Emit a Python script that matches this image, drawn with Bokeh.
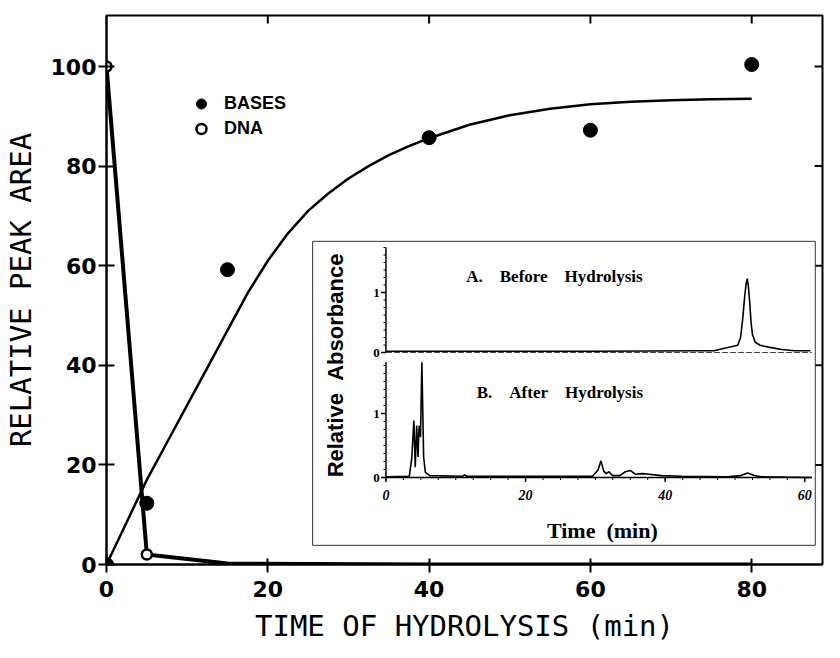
import numpy as np
from bokeh.plotting import figure
from bokeh.models import Range1d, FixedTicker, Legend, LegendItem
from bokeh.core.properties import value
from bokeh.embed import file_html
from bokeh.resources import INLINE

# ---------------- main chart data ----------------
time_min = [0, 5, 15, 40, 60, 80]
bases_area = [0, 12.3, 59.2, 85.7, 87.2, 100.4]
dna_area = [100, 2.0, 0.2, 0.0, 0.0, 0.0]

fit_time = [0, 2.5, 5, 7.5, 10, 12.5, 15, 17.5, 20, 22.5, 25, 27.5, 30, 32.5, 35,
            37.5, 40, 45, 50, 55, 60, 65, 70, 75, 80]
fit_area = [0, 8.5, 17, 24.5, 32, 39.5, 47, 54.5, 61, 66.5, 71, 74.5, 77.5, 80, 82.2,
            84, 85.6, 88.3, 90.2, 91.5, 92.4, 92.9, 93.2, 93.4, 93.5]

x_ticks = [0, 20, 40, 60, 80]
y_ticks = [0, 20, 40, 60, 80, 100]

# ---------------- inset chromatograms ----------------
chromA_time = [0, 15, 30, 45, 47, 48.5, 50.4, 50.8, 51.1, 51.4, 51.6, 51.75, 51.9,
               52.1, 52.3, 52.5, 52.9, 53.6, 54.8, 56.7, 58.5, 60.8]
chromA_abs = [0.02, 0.02, 0.02, 0.03, 0.03, 0.07, 0.12, 0.25, 0.55, 0.95, 1.15, 1.23,
              1.12, 0.85, 0.5, 0.3, 0.17, 0.12, 0.09, 0.05, 0.03, 0.03]

chromB_time = [0, 3.35, 3.7, 4.0, 4.2, 4.4, 4.6, 4.75, 4.95, 5.15, 5.4, 5.65, 6.3,
               11.0, 11.25, 11.6, 16.7, 29.6, 30.4, 30.8, 31.2, 31.55, 31.95, 32.45,
               33.5, 34.3, 35.0, 35.75, 36.75, 37.7, 39.5, 42.4, 48.9, 50.85, 51.8,
               52.8, 53.8, 61.0]
chromB_abs = [0.01, 0.02, 0.3, 0.89, 0.16, 0.81, 0.32, 0.81, 0.63, 1.8, 0.32, 0.08,
              0.03, 0.02, 0.04, 0.02, 0.02, 0.02, 0.12, 0.26, 0.1, 0.06, 0.09, 0.03,
              0.03, 0.09, 0.11, 0.05, 0.06, 0.05, 0.03, 0.02, 0.01, 0.03, 0.07,
              0.03, 0.01, 0.0]

inset_x_ticks = [0, 20, 40, 60]
inset_y_ticks = [0, 1]

NB = "\u00a0"

# ---------------- layout (pixels) ----------------
W, H = 824, 646
BL, BR, BT = 102, 2, 15
FW = W - BL - BR          # frame width
FH = 549                  # frame height
BB = H - BT - FH
PX_X, PX_Y = 8.11, 4.98   # px per unit on main axes

x_end = FW / PX_X
y_end = FH / PX_Y

p = figure(width=W, height=H, output_backend="svg", toolbar_location=None,
           x_range=Range1d(0, x_end), y_range=Range1d(0, y_end),
           min_border_left=BL, min_border_right=BR, min_border_top=BT,
           min_border_bottom=BB, background_fill_color="white",
           border_fill_color="white")
p.grid.visible = False
p.outline_line_color = "black"
p.outline_line_width = 2

# inset ranges (frame-relative mapping)
ix_px = 7.02
ix_zero = 391 - 110
ya_px, ya_zero = 60.0, 564 - 352
yb_px, yb_zero = 64.0, 564 - 477
p.extra_x_ranges = {"ix": Range1d(-ix_zero / ix_px, (FW - ix_zero) / ix_px)}
p.extra_y_ranges = {"ya": Range1d(-ya_zero / ya_px, (FH - ya_zero) / ya_px),
                    "yb": Range1d(-yb_zero / yb_px, (FH - yb_zero) / yb_px)}

xa = p.xaxis[0]
xa.ticker = FixedTicker(ticks=x_ticks)
xa.axis_label = "TIME OF HYDROLYSIS (min)"
ya_ax = p.yaxis[0]
ya_ax.ticker = FixedTicker(ticks=y_ticks)
ya_ax.axis_label = "RELATIVE PEAK AREA"
for ax in (xa, ya_ax):
    ax.axis_line_width = 2
    ax.axis_line_color = "black"
    ax.major_tick_line_width = 2
    ax.major_tick_line_color = "black"
    ax.minor_tick_line_color = None
    ax.major_label_text_font = "DejaVu Sans"
    ax.major_label_text_font_style = "bold"
    ax.major_label_text_font_size = "22px"
    ax.major_label_text_color = "black"
    ax.axis_label_text_font = "DejaVu Sans Mono"
    ax.axis_label_text_font_style = "normal"
    ax.axis_label_text_font_size = "29px"
    ax.axis_label_text_color = "black"
xa.major_tick_in, xa.major_tick_out = 6, 8
xa.major_label_standoff = 8
xa.axis_label_standoff = 9
ya_ax.major_tick_in, ya_ax.major_tick_out = 8, 8
ya_ax.major_label_standoff = 2
ya_ax.axis_label_standoff = 10

# inward ticks on the top and right frame edges
tick_len_y = 8 / PX_Y
tick_len_x = 8 / PX_X
p.segment(x0=x_ticks[1:], y0=[y_end] * 4, x1=x_ticks[1:], y1=[y_end - tick_len_y] * 4,
          line_color="black", line_width=2)
p.segment(x0=[x_end] * 5, y0=y_ticks[1:], x1=[x_end - tick_len_x] * 5, y1=y_ticks[1:],
          line_color="black", line_width=2)

# ---------------- main series ----------------
p.line(fit_time, fit_area, line_color="black", line_width=2.5)
p.line(time_min, dna_area, line_color="black", line_width=4)
r_bases = p.scatter(time_min, bases_area, size=14, fill_color="black",
                    line_color="black")
r_dna = p.scatter(time_min[:2], dna_area[:2], size=10, fill_color="white",
                  line_color="black", line_width=2.5)

legend = Legend(items=[LegendItem(label="BASES", renderers=[r_bases]),
                       LegendItem(label="DNA", renderers=[r_dna])],
                location=(82, 423), margin=0, padding=0, spacing=0,
                glyph_width=26, glyph_height=25, label_height=25,
                label_standoff=10, background_fill_alpha=0,
                border_line_alpha=0, label_text_font="Liberation Sans",
                label_text_font_style="bold", label_text_font_size="18px",
                label_text_color="black")
p.add_layout(legend)

# ---------------- inset ----------------
IX = dict(x_range_name="ix")
serif = value("Liberation Serif")
p.quad(left=[-10.5], right=[61.5], bottom=[-1.06], top=[3.69],
       fill_color="white", line_color="#333333", line_width=1,
       y_range_name="yb", **IX)

# panel A axes
p.segment(x0=[0], y0=[0], x1=[0], y1=[1.75], line_color="black", line_width=1.5,
          y_range_name="ya", **IX)
p.line([0, 61], [0, 0], line_color="#444444", line_width=1, line_dash="6 2",
       y_range_name="ya", **IX)
mA = np.arange(0, 1.751, 0.125)
p.segment(x0=np.zeros(len(mA)), y0=mA, x1=np.full(len(mA), -0.35), y1=mA,
          line_color="black", line_width=1, y_range_name="ya", **IX)
p.segment(x0=[0] * len(inset_y_ticks), y0=inset_y_ticks,
          x1=[-0.7] * len(inset_y_ticks), y1=inset_y_ticks,
          line_color="black", line_width=1.5, y_range_name="ya", **IX)
p.text(x=[-0.9] * len(inset_y_ticks), y=inset_y_ticks,
       text=[str(t) for t in inset_y_ticks], text_align="right",
       text_baseline="middle", text_font=serif,
       text_font_style="bold", text_font_size="13px", text_color="black",
       y_range_name="ya", **IX)
p.line(chromA_time, chromA_abs, line_color="black", line_width=1.6,
       y_range_name="ya", **IX)
p.text(x=[11.5], y=[1.27], text=[f"A.{NB*4}Before{NB*4}Hydrolysis"],
       text_align="left", text_baseline="middle", text_font=serif,
       text_font_style="bold", text_font_size="17px", text_color="black",
       y_range_name="ya", **IX)

# panel B axes
p.segment(x0=[0], y0=[0], x1=[0], y1=[1.8], line_color="black", line_width=1.5,
          y_range_name="yb", **IX)
p.segment(x0=[0], y0=[0], x1=[61], y1=[0], line_color="black", line_width=1.5,
          y_range_name="yb", **IX)
mB = np.arange(0, 1.801, 0.125)
p.segment(x0=np.zeros(len(mB)), y0=mB, x1=np.full(len(mB), -0.35), y1=mB,
          line_color="black", line_width=1, y_range_name="yb", **IX)
p.segment(x0=[0] * len(inset_y_ticks), y0=inset_y_ticks,
          x1=[-0.7] * len(inset_y_ticks), y1=inset_y_ticks,
          line_color="black", line_width=1.5, y_range_name="yb", **IX)
mx = np.arange(0, 60.01, 2.5)
p.segment(x0=mx, y0=np.zeros(len(mx)), x1=mx, y1=np.full(len(mx), -0.04),
          line_color="black", line_width=1, y_range_name="yb", **IX)
p.segment(x0=inset_x_ticks, y0=[0] * len(inset_x_ticks), x1=inset_x_ticks,
          y1=[-0.07] * len(inset_x_ticks), line_color="black", line_width=1.5,
          y_range_name="yb", **IX)
p.text(x=[-0.9] * len(inset_y_ticks), y=inset_y_ticks,
       text=[str(t) for t in inset_y_ticks], text_align="right",
       text_baseline="middle", text_font=serif,
       text_font_style="bold", text_font_size="13px", text_color="black",
       y_range_name="yb", **IX)
p.text(x=inset_x_ticks, y=[-0.28] * len(inset_x_ticks),
       text=[str(t) for t in inset_x_ticks], text_align="center",
       text_baseline="middle", text_font=serif,
       text_font_style="bold italic", text_font_size="14px", text_color="black",
       y_range_name="yb", **IX)
p.line(chromB_time, chromB_abs, line_color="black", line_width=1.6,
       y_range_name="yb", **IX)
p.text(x=[13.0], y=[1.33], text=[f"B.{NB*4}After{NB*4}Hydrolysis"],
       text_align="left", text_baseline="middle", text_font=serif,
       text_font_style="bold", text_font_size="17px", text_color="black",
       y_range_name="yb", **IX)
p.text(x=[31], y=[-0.83], text=[f"Time{NB*2}(min)"], text_align="center",
       text_baseline="middle", text_font=serif,
       text_font_style="bold", text_font_size="22px", text_color="black",
       y_range_name="yb", **IX)
p.text(x=[-7.26], y=[1.75], text=[f"Relative{NB*2}Absorbance"], angle=np.pi / 2,
       text_align="center", text_baseline="middle",
       text_font=value("Liberation Sans"), text_font_style="bold",
       text_font_size="22px", text_color="black", y_range_name="yb", **IX)

open("out.html", "w").write(file_html(p, INLINE))
